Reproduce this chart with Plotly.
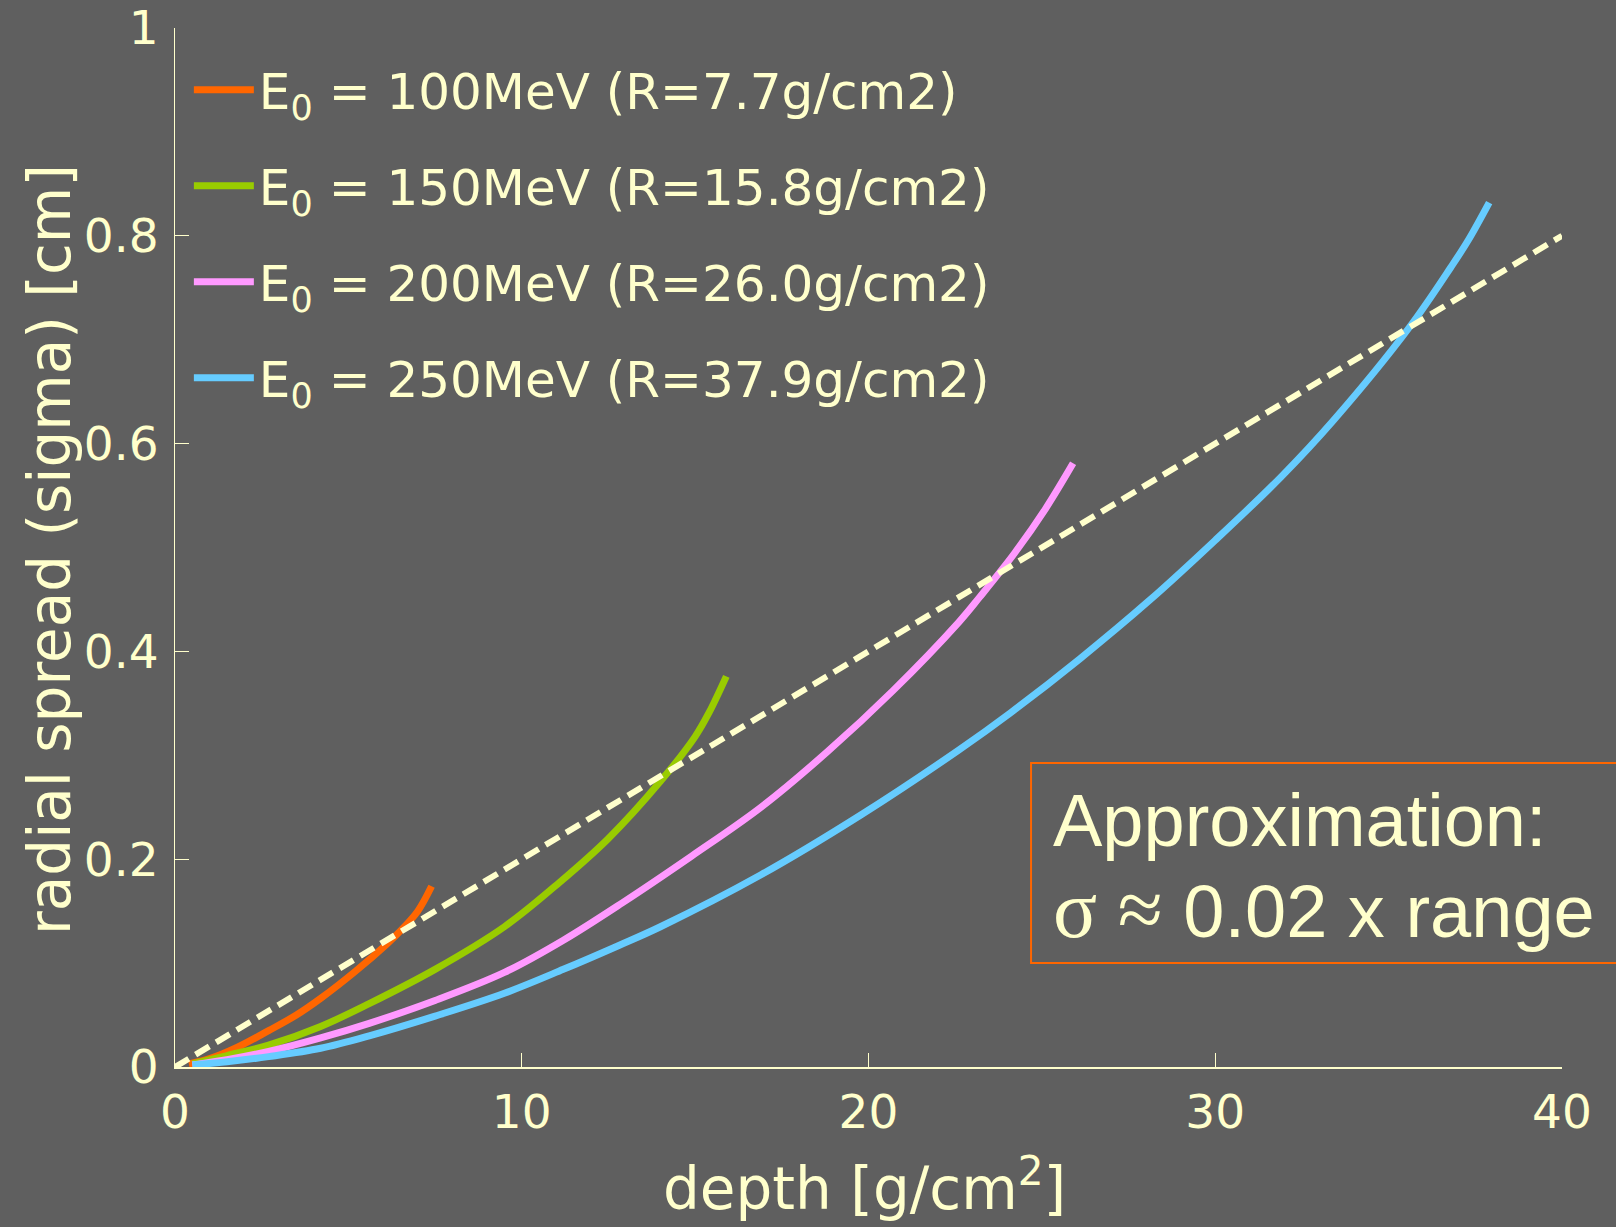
import plotly.graph_objects as go

# ---- data ----
d_100 = [0.4, 1.0, 1.8, 2.7, 3.5, 4.2, 5.2, 6.1, 6.5, 7.0, 7.4]
s_100 = [0.003, 0.008, 0.019, 0.035, 0.050, 0.066, 0.092, 0.118, 0.131, 0.150, 0.174]

d_150 = [0.5, 1.5, 2.7, 4.2, 5.6, 7.5, 9.5, 11.1, 12.5, 14.0, 15.0, 15.4, 15.9]
s_150 = [0.003, 0.011, 0.021, 0.039, 0.061, 0.094, 0.135, 0.178, 0.220, 0.275, 0.318, 0.341, 0.376]

d_200 = [0.5, 1.5, 2.7, 4.2, 5.6, 7.5, 9.5, 11.2, 12.9, 14.9, 16.9, 18.8, 20.7, 22.6, 23.2, 24.2, 25.1, 25.9]
s_200 = [0.002, 0.007, 0.015, 0.028, 0.042, 0.064, 0.091, 0.122, 0.158, 0.203, 0.250, 0.303, 0.362, 0.428, 0.452, 0.494, 0.537, 0.581]

d_250 = [0.5, 1.5, 2.7, 4.2, 5.6, 7.5, 9.5, 11.2, 12.8, 14.0, 16.9, 19.8, 22.6, 24.1, 26.1, 28.1,
         30.0, 31.9, 33.4, 35.6, 36.8, 37.3, 37.9]
s_250 = [0.002, 0.005, 0.010, 0.018, 0.030, 0.049, 0.071, 0.094, 0.117, 0.135, 0.185, 0.243, 0.305,
         0.341, 0.393, 0.449, 0.507, 0.568, 0.622, 0.712, 0.770, 0.796, 0.832]

approx_d = [0, 40]
approx_s = [0, 0.8]

series_names = [
    "E<sub>0</sub> = 100MeV (R=7.7g/cm2)",
    "E<sub>0</sub> = 150MeV (R=15.8g/cm2)",
    "E<sub>0</sub> = 200MeV (R=26.0g/cm2)",
    "E<sub>0</sub> = 250MeV (R=37.9g/cm2)",
]
series_colors = ["#FF6600", "#99CC00", "#FF99FF", "#66CCFF"]

x_ticks = [0, 10, 20, 30, 40]
y_ticks = [0, 0.2, 0.4, 0.6, 0.8, 1]
y_ticktext = ["0", "0.2", "0.4", "0.6", "0.8", "1"]

BG = "#5f5f5f"
FG = "#FFFFCC"
FONT = "DejaVu Sans"

fig = go.Figure()
for i, (dx, sy) in enumerate([(d_100, s_100), (d_150, s_150), (d_200, s_200), (d_250, s_250)]):
    fig.add_trace(go.Scatter(
        x=dx, y=sy, mode="lines", name=series_names[i],
        legendgroup=f"g{i}",
        line=dict(color=series_colors[i], width=7, shape="spline", smoothing=1.0),
    ))

fig.add_trace(go.Scatter(
    x=approx_d, y=approx_s, mode="lines", showlegend=False,
    line=dict(color=FG, width=6, dash="16px,8px"),
))

axis_common = dict(
    showgrid=False, zeroline=False, showline=True, linecolor=FG,
    ticks="inside", ticklen=14, tickcolor=FG, tickwidth=1, automargin=False,
    tickfont=dict(family=FONT, size=47, color=FG),
)

fig.update_layout(
    width=1616, height=1227,
    paper_bgcolor=BG, plot_bgcolor=BG,
    margin=dict(l=175, r=54, t=28, b=160),
    font=dict(family=FONT, color=FG),
    xaxis=dict(range=[0, 40], tickvals=x_ticks, linewidth=2, ticklabelstandoff=3,
               **axis_common),
    yaxis=dict(range=[0, 1], tickvals=y_ticks, ticktext=y_ticktext, linewidth=1, ticklabelstandoff=6,
               **axis_common),
    legend=dict(x=0.01, y=0.978, xanchor="left", yanchor="top",
                bgcolor="rgba(0,0,0,0)", font=dict(family=FONT, size=50, color=FG),
                tracegroupgap=28, itemwidth=60),
    showlegend=True,
)

# axis titles
fig.add_annotation(xref="paper", yref="paper", x=0.4968, y=-0.1134, xanchor="center", yanchor="middle",
                   text="depth [g/cm<sup>2</sup>]", showarrow=False,
                   font=dict(family=FONT, size=58, color=FG))
fig.add_annotation(xref="paper", yref="paper", x=-0.0905, y=0.498, xanchor="center", yanchor="middle",
                   text="radial spread (sigma) [cm]", textangle=-90, showarrow=False,
                   font=dict(family=FONT, size=58, color=FG))

fig.add_shape(type="rect", xref="paper", yref="paper",
              x0=0.6172, x1=1.1, y0=0.1001, y1=0.2926,
              line=dict(color="#FF6600", width=2), fillcolor="rgba(0,0,0,0)")

fig.add_annotation(xref="paper", yref="paper", x=0.6316, y=0.2377, xanchor="left", yanchor="middle",
                   text="Approximation:", showarrow=False,
                   font=dict(family="Liberation Sans", size=74, color=FG))
fig.add_annotation(xref="paper", yref="paper", x=0.6316, y=0.152, xanchor="left", yanchor="middle",
                   text="<span style='font-family:Liberation Serif;font-size:82px'>σ ≈</span> 0.02 x range",
                   showarrow=False,
                   font=dict(family="Liberation Sans", size=74, color=FG))

fig.write_html("out.html")
